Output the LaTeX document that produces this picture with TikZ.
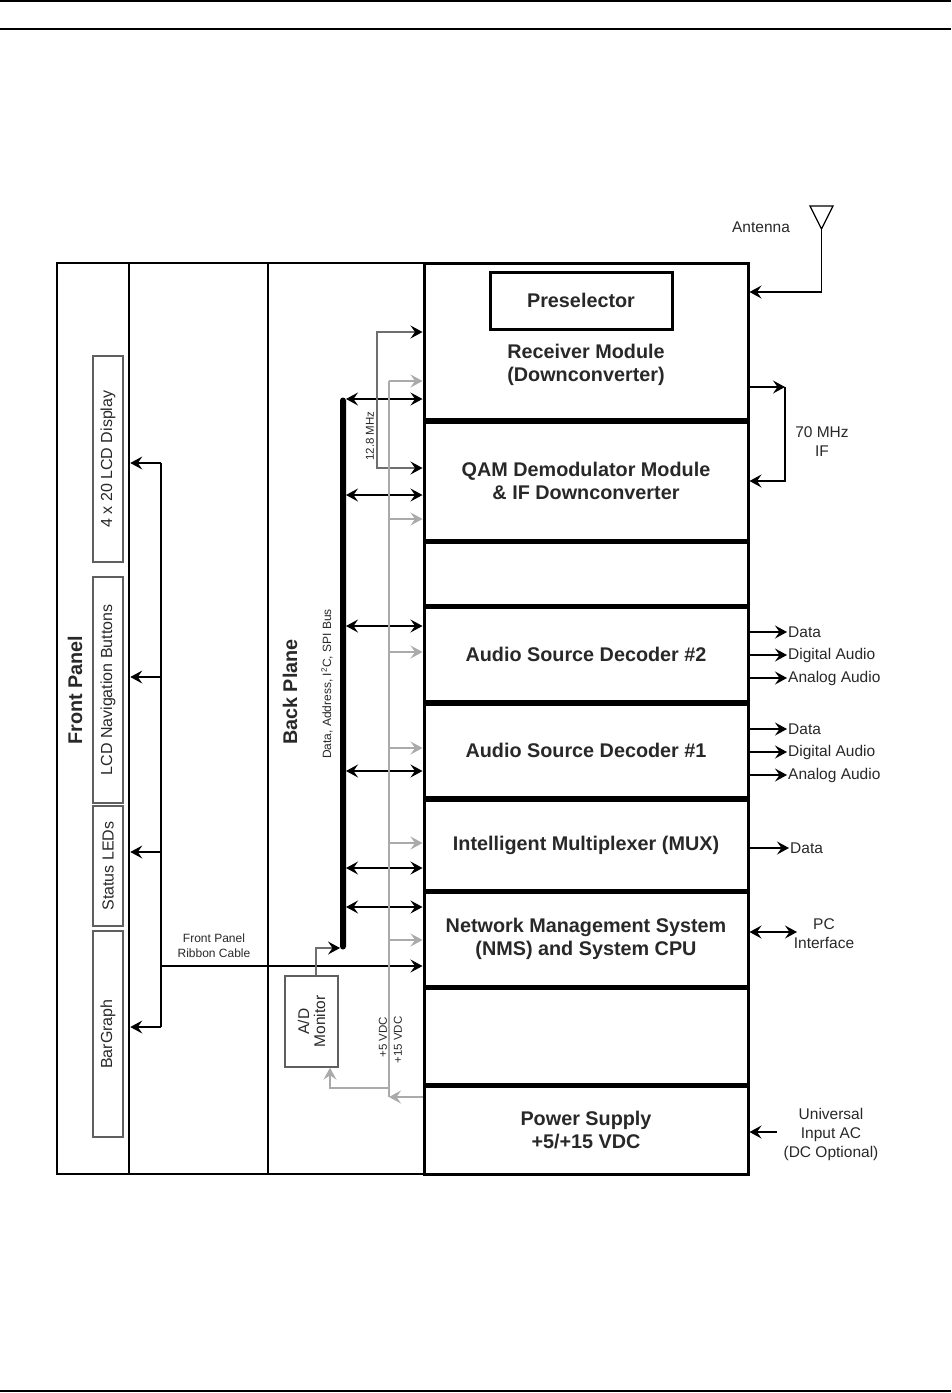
\documentclass[tikz,border=0pt]{standalone}
\usepackage{fontspec}
\setmainfont{Liberation Sans}
\usetikzlibrary{arrows.meta}
\definecolor{pgray}{RGB}{170,170,170}
\definecolor{dgray}{RGB}{95,95,95}
\definecolor{mgray}{RGB}{110,110,110}
\definecolor{txt}{RGB}{40,40,40}
\begin{document}
\begin{tikzpicture}[x=1pt,y=-1pt,
  panelbox/.style={draw=black,line width=2.6pt,inner sep=0pt},
  module/.style={draw=black,line width=3pt,minimum width=324pt,inner sep=0pt},
  subbox/.style={draw=dgray,line width=1.4pt,rotate=90,minimum height=30pt,inner sep=0pt,font=\fontsize{16}{19}\selectfont,text=txt},
  big/.style={font=\fontsize{19.8}{23.5}\selectfont\bfseries,align=center,text=txt},
  lab/.style={font=\fontsize{15.5}{19}\selectfont,text=txt,align=center},
  smalllab/.style={font=\fontsize{12}{15}\selectfont,text=txt,align=center},
  arr/.style={-{Stealth[length=12pt,width=13pt,inset=4.5pt]}},
  biarr/.style={{Stealth[length=12pt,width=13pt,inset=4.5pt]}-{Stealth[length=12pt,width=13pt,inset=4.5pt]}},
  biarrblack/.style={{Stealth[length=12pt,width=13pt,inset=4.5pt,color=black]}-{Stealth[length=12pt,width=13pt,inset=4.5pt,color=black]}},
  arrblack/.style={-{Stealth[length=12pt,width=13pt,inset=4.5pt,color=black]}},
  conn/.style={draw=black,line width=1.2pt},
  dconn/.style={draw=mgray,line width=1.2pt},
  pwr/.style={draw=pgray,line width=1.3pt},
]
\useasboundingbox (0,0) rectangle (951,1393);
% page rules
\draw[line width=1.4pt] (0,1) -- (951,1);
\draw[line width=1.4pt] (0,29) -- (951,29);
\draw[line width=2.8pt] (0,1391) -- (951,1391);

% columns
\node[panelbox,minimum width=72pt,minimum height=911pt] (fp) at (93,718.5) {};
\node[panelbox,minimum width=139pt,minimum height=911pt] (cab) at (198.5,718.5) {};
\node[panelbox,minimum width=156pt,minimum height=911pt] (bp) at (346,718.5) {};
\node[big,rotate=90] (fptxt) at (75,690) {Front Panel};
\node[big,rotate=90] (bptxt) at (290,692) {Back Plane};

% front panel sub boxes
\node[subbox,minimum width=206pt] (lcd) at (108,459) {4 x 20 LCD Display};
\node[subbox,minimum width=226pt] (nav) at (108,690) {LCD Navigation Buttons};
\node[subbox,minimum width=120pt] (leds) at (108,866) {Status LEDs};
\node[subbox,minimum width=206pt] (bar) at (108,1034) {BarGraph};

% modules
\node[module,minimum height=156pt] (rx) at (586,341) {};
\node[module,big,minimum height=57pt,minimum width=182pt] (pre) at (581,300.5) {Preselector};
\node[big] (rxt) at (586,365) {Receiver Module\\(Downconverter)};
\node[module,big,minimum height=118pt] (qam) at (586,481) {QAM Demodulator Module\\\& IF Downconverter};
\node[module,minimum height=63pt] (e1) at (586,573.5) {};
\node[module,big,minimum height=94pt] (asd2) at (586,654) {Audio Source Decoder \#2};
\node[module,big,minimum height=93pt] (asd1) at (586,750.5) {Audio Source Decoder \#1};
\node[module,big,minimum height=90pt] (mux) at (586,845) {Intelligent Multiplexer (MUX)};
\node[module,big,minimum height=94pt] (nms) at (586,939) {Network Management System\\(NMS) and System CPU};
\node[module,minimum height=96pt] (e2) at (586,1036) {};
\node[module,big,minimum height=88pt] (ps) at (586,1130) {Power Supply\\+5/+15 VDC};

% front panel ribbon cable
\coordinate (r1) at (161,463);
\coordinate (r2) at (161,677);
\coordinate (r3) at (161,852);
\coordinate (r4) at (161,1027);
\coordinate (r5) at (161,966);
\draw[conn] (r1) -- (r4);
\foreach \c in {r1,r2,r3,r4} \draw[conn,arr] (\c) -- (fp.east |- \c);
\draw[conn,arr] (r5) -- (nms.west |- r5);
\node[smalllab] (ribtxt) at (214,946) {Front Panel\\Ribbon Cable};

% bus
\node[fill=black,rounded corners=3pt,minimum width=6pt,minimum height=552pt,inner sep=0pt,outer sep=0pt] (bus) at (343,673.5) {};
\node[smalllab,rotate=90] (bustxt) at (327,684) {Data, Address, I\textsuperscript{2}C, SPI Bus};
\foreach \lv/\m in {399/rx,495/qam,626/asd2,771/asd1,868/mux,907/nms} {
  \coordinate (k\lv) at (400,\lv);
  \draw[conn,biarr] (bus.east |- k\lv) -- (\m.west |- k\lv);
}

% 12.8 MHz reference
\coordinate (ca) at (377,332);
\coordinate (cb) at (377,468);
\draw[dconn,biarrblack] (rx.west |- ca) -- (ca) -- (cb) -- (qam.west |- cb);
\node[smalllab,rotate=90,font=\fontsize{11.5}{14}\selectfont] (mhz) at (370,436) {12.8 MHz};

% power distribution
\coordinate (ptop) at (389,381);
\coordinate (pbot) at (389,1097);
\draw[pwr] (ptop) -- (pbot);
\foreach \lv/\m in {381/rx,519/qam,652/asd2,748/asd1,843/mux,940/nms} {
  \coordinate (g\lv) at (389,\lv);
  \draw[pwr,arr] (g\lv) -- (\m.west |- g\lv);
}
\draw[pwr,arr] (ps.west |- pbot) -- (pbot);
\coordinate (pj) at (389,1088);
\coordinate (pa) at (330,1088);
\node[smalllab,rotate=90,font=\fontsize{11.5}{14}\selectfont] (v5) at (383,1037) {+5 VDC};
\node[smalllab,rotate=90,font=\fontsize{11.5}{14}\selectfont] (v15) at (398,1040) {+15 VDC};

% A/D monitor
\node[draw=dgray,line width=1.4pt,minimum width=53pt,minimum height=91pt,inner sep=0pt] (ad) at (311.5,1021.5) {};
\node[lab,rotate=90,font=\fontsize{15.5}{16}\selectfont] (adtxt) at (ad) {A/D\\Monitor};
\draw[pwr,arr] (pj) -- (pa) -- (pa |- ad.south);
\coordinate (ab) at (316,948);
\draw[dconn,arrblack] (ab |- ad.north) -- (ab) -- (bus.west |- ab);

% antenna
\coordinate (ant) at (821.5,229);
\coordinate (antc) at (821.5,292);
\draw[conn,line join=miter] (810,206) -- (833,206) -- (ant) -- cycle;
\draw[conn,arr] (ant) -- (antc) -- (rx.east |- antc);
\node[lab] (anttxt) at (761,227) {Antenna};

% 70 MHz IF
\coordinate (i1) at (785,387);
\coordinate (i2) at (785,481);
\draw[conn,arr] (rx.east |- i1) -- (i1);
\draw[conn,arr] (i1) -- (i2) -- (qam.east |- i2);
\node[lab] (iftxt) at (822,442) {70 MHz\\IF};

% decoder outputs
\foreach \lv/\txtc in {632/Data,655/Digital Audio,678/Analog Audio} {
  \coordinate (o\lv) at (787,\lv);
  \draw[conn,arr] (asd2.east |- o\lv) -- (o\lv);
  \node[lab,anchor=west,inner sep=1pt] at (o\lv) {\txtc};
}
\foreach \lv/\txtc in {729/Data,752/Digital Audio,775/Analog Audio} {
  \coordinate (o\lv) at (787,\lv);
  \draw[conn,arr] (asd1.east |- o\lv) -- (o\lv);
  \node[lab,anchor=west,inner sep=1pt] at (o\lv) {\txtc};
}
\coordinate (m1) at (789,848);
\draw[conn,arr] (mux.east |- m1) -- (m1);
\node[lab,anchor=west,inner sep=1pt] (muxdata) at (m1) {Data};

% PC interface
\coordinate (pc) at (797,932);
\draw[conn,biarr] (nms.east |- pc) -- (pc);
\node[lab] (pctxt) at (824,934) {PC\\Interface};

% AC input
\coordinate (u1) at (777,1132);
\draw[conn,arr] (u1) -- (ps.east |- u1);
\node[lab] (actxt) at (831,1134) {Universal\\Input AC\\(DC Optional)};
\end{tikzpicture}
\end{document}
